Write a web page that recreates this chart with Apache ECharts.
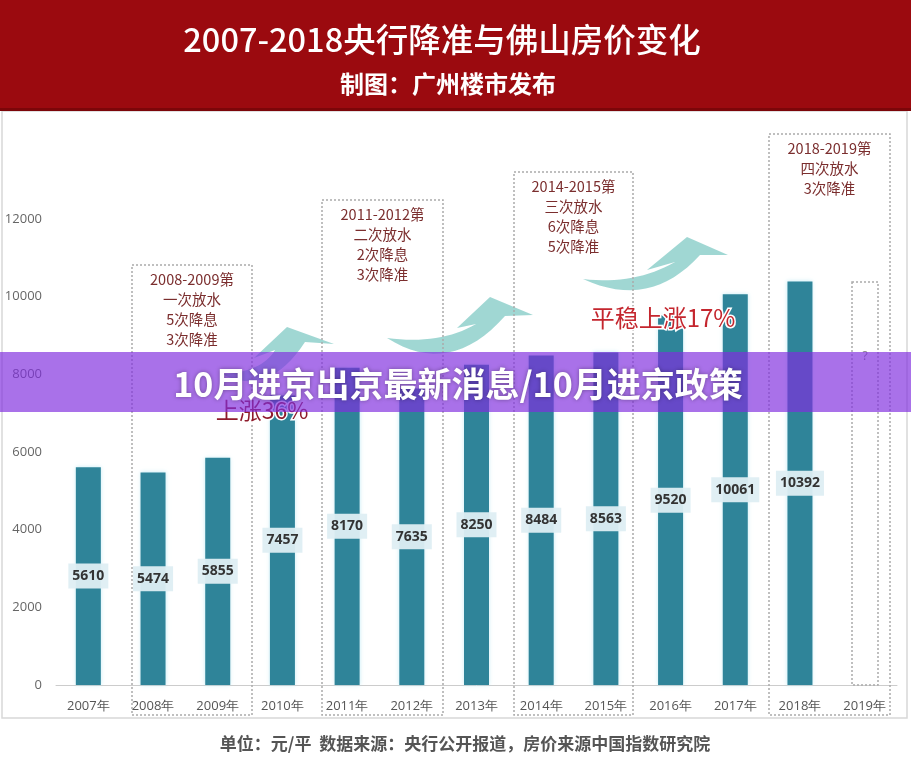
<!DOCTYPE html>
<html>
<head>
<meta charset="utf-8">
<script src="https://cdn.jsdelivr.net/npm/echarts@6/dist/echarts.min.js"></script>
<style>
  html, body { margin: 0; padding: 0; background: #fff; }
  #chart { width: 911px; height: 766px; }
</style>
</head>
<body>
<div id="chart"></div>
<script>
const years = ['2007年', '2008年', '2009年', '2010年', '2011年', '2012年', '2013年',
  '2014年', '2015年', '2016年', '2017年', '2018年', '2019年']
const prices = [5610, 5474, 5855, 7457, 8170, 7635, 8250, 8484, 8563, 9520, 10061, 10392, null]
const yMax = 12000
const yStep = 2000

const titleText = '2007-2018央行降准与佛山房价变化'
const subTitleText = '制图：广州楼市发布'
const footText = '单位：元/平  数据来源：央行公开报道，房价来源中国指数研究院'
const bannerText = '10月进京出京最新消息/10月进京政策'

// 每轮放水说明
const notes = [
  ['2008-2009第', '一次放水', '5次降息', '3次降准'],
  ['2011-2012第', '二次放水', '2次降息', '3次降准'],
  ['2014-2015第', '三次放水', '6次降息', '5次降准'],
  ['2018-2019第', '四次放水', '3次降准']
]
const riseTexts = ['上涨36%', '平稳上涨17%']

// 虚线框位置 [x, y, w, h]
const noteBoxes = [
  [132, 265, 120, 450],
  [322, 200, 121, 515],
  [514, 172, 119, 543],
  [769, 134, 121, 581]
]

const chart = echarts.init(document.getElementById('chart'))

// 二次贝塞尔取点，画弧形箭头用
const qpts = (p0, c, p1, n = 16) => {
  const out = []
  for (let i = 0; i <= n; i++) {
    const t = i / n
    const a = (1 - t) * (1 - t), b = 2 * t * (1 - t), d = t * t
    out.push([a * p0[0] + b * c[0] + d * p1[0], a * p0[1] + b * c[1] + d * p1[1]])
  }
  return out
}
const arrow = (tail, lowC, baseR, wingR, tip, wingL, baseL, upC) => ({
  type: 'polygon',
  z: 1,
  shape: {
    points: [
      ...qpts(tail, lowC, baseR),
      wingR, tip, wingL,
      ...qpts(baseL, upC, tail)
    ]
  },
  style: { fill: '#8fd0cb', opacity: 0.85 }
})

const graphic = [
  // 外框
  { type: 'rect', z: 0, shape: { x: 2, y: 111, width: 905, height: 607 },
    style: { fill: '#fff', stroke: '#d8d8d8', lineWidth: 1.5 } },
  // 红色标题栏
  { type: 'rect', z: 1, shape: { x: 0, y: 0, width: 911, height: 111 }, style: { fill: '#9b0a0f' } },
  { type: 'rect', z: 1, shape: { x: 0, y: 108, width: 911, height: 3 }, style: { fill: '#7c0609' } },
  { type: 'text', z: 2, x: 442, y: 40,
    style: { text: titleText, fill: '#fff', font: '500 32.5px "Noto Sans CJK SC"', textAlign: 'center', textVerticalAlign: 'middle' } },
  { type: 'text', z: 2, x: 448, y: 84,
    style: { text: subTitleText, fill: '#fff', font: 'bold 24px "Noto Sans CJK SC"', textAlign: 'center', textVerticalAlign: 'middle' } },
  { type: 'text', z: 2, x: 465, y: 744,
    style: { text: footText, fill: '#555', font: 'bold 17px "Noto Sans CJK SC"', textAlign: 'center', textVerticalAlign: 'middle' } },
  // 箭头
  arrow([222, 374], [268, 398], [305, 342], [334, 344], [287, 327], [254, 358], [275, 350], [262, 372]),
  arrow([387, 338], [450, 378], [505, 316], [533, 315], [490, 297], [457, 328], [476, 324], [440, 345]),
  arrow([583, 279], [650, 310], [700, 255], [728, 255], [687, 237], [647, 270], [675, 262], [635, 285]),
  { type: 'text', z: 50, x: 262, y: 410,
    style: { text: riseTexts[0], fill: '#8e1b2b', font: '23px "Noto Sans CJK SC"', textAlign: 'center', textVerticalAlign: 'middle',
      stroke: '#fff', lineWidth: 3 } },
  { type: 'text', z: 50, x: 663, y: 318,
    style: { text: riseTexts[1], fill: '#c4262e', font: '24px "Noto Sans CJK SC"', textAlign: 'center', textVerticalAlign: 'middle',
      stroke: '#fff', lineWidth: 3 } },
  // 2019 空框
  { type: 'rect', z: 1, shape: { x: 852, y: 282, width: 26, height: 403 },
    style: { fill: 'none', stroke: '#aaa', lineWidth: 1.5, lineDash: [2, 2] } },
  { type: 'text', z: 2, x: 865, y: 357,
    style: { text: '?', fill: '#888', font: '12px "Noto Sans"', textAlign: 'center', textVerticalAlign: 'middle' } }
]

noteBoxes.forEach((b, i) => {
  graphic.push({ type: 'rect', z: 1, shape: { x: b[0], y: b[1], width: b[2], height: b[3] },
    style: { fill: 'none', stroke: '#aaa', lineWidth: 1.5, lineDash: [2, 2] } })
  graphic.push({ type: 'text', z: 2, x: b[0] + b[2] / 2, y: b[1] + 4,
    style: { text: notes[i].join('\n'), fill: '#7b2e2e', font: '14.5px "Noto Sans CJK SC"',
      lineHeight: 20, textAlign: 'center', textVerticalAlign: 'top' } })
})

// 紫色横幅
graphic.push({ type: 'rect', z: 100, shape: { x: 0, y: 352, width: 911, height: 60 },
  style: { fill: 'rgba(128, 45, 222, 0.68)' } })
graphic.push({ type: 'text', z: 101, x: 458, y: 384,
  style: { text: bannerText, fill: '#fff', font: 'bold 34px "Noto Sans CJK SC"', textAlign: 'center', textVerticalAlign: 'middle',
    textShadowColor: 'rgba(0,0,0,0.35)', textShadowBlur: 4 } })

const option = {
  animation: false,
  grid: { left: 56, right: 14, top: 219, bottom: 81 },
  xAxis: {
    type: 'category',
    data: years,
    axisLine: { lineStyle: { color: '#ccc' } },
    axisTick: { show: false },
    axisLabel: { color: '#555', fontSize: 13, margin: 15, fontFamily: 'Open Sans' }
  },
  yAxis: {
    type: 'value',
    min: 0,
    max: yMax,
    interval: yStep,
    axisLine: { show: false },
    axisTick: { show: false },
    splitLine: { show: false },
    axisLabel: { color: '#666', fontSize: 13, margin: 14, fontFamily: 'Open Sans', formatter: v => String(v) }
  },
  graphic,
  series: [{
    type: 'bar',
    data: prices,
    barWidth: 25,
    z: 5,
    itemStyle: { color: '#2f8499', shadowColor: 'rgba(160, 225, 240, 0.6)', shadowBlur: 4 },
    label: {
      show: true,
      position: 'inside',
      color: '#333',
      fontWeight: 'bold',
      fontSize: 14,
      fontFamily: 'Open Sans',
      backgroundColor: 'rgba(222, 238, 243, 0.95)',
      padding: [6, 4, 5, 4]
    }
  }]
}
chart.setOption(option)
</script>
</body>
</html>
